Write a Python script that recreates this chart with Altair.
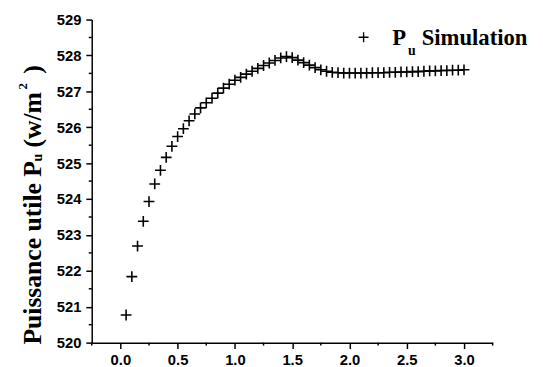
import altair as alt
import pandas as pd

# ---- data ----
x_vals = [0.05, 0.10, 0.15, 0.20, 0.25, 0.30, 0.35, 0.40, 0.45, 0.50,
          0.55, 0.60, 0.65, 0.70, 0.75, 0.80, 0.85, 0.90, 0.95, 1.00,
          1.05, 1.10, 1.15, 1.20, 1.25, 1.30, 1.35, 1.40, 1.45, 1.50,
          1.55, 1.60, 1.65, 1.70, 1.75, 1.80, 1.85, 1.90, 1.95, 2.00,
          2.05, 2.10, 2.15, 2.20, 2.25, 2.30, 2.35, 2.40, 2.45, 2.50,
          2.55, 2.60, 2.65, 2.70, 2.75, 2.80, 2.85, 2.90, 2.95, 3.00]
pu_vals = [520.77, 521.84, 522.69, 523.38, 523.93, 524.42, 524.80, 525.16, 525.47, 525.74,
           525.96, 526.18, 526.37, 526.54, 526.68, 526.81, 526.95, 527.09, 527.20, 527.31,
           527.39, 527.48, 527.56, 527.64, 527.72, 527.79, 527.86, 527.93, 527.97, 527.94,
           527.87, 527.80, 527.73, 527.66, 527.60, 527.56, 527.53, 527.52, 527.51, 527.51,
           527.51, 527.51, 527.51, 527.52, 527.52, 527.52, 527.53, 527.53, 527.54, 527.54,
           527.55, 527.55, 527.56, 527.57, 527.57, 527.58, 527.58, 527.59, 527.59, 527.60]

x_major = [0.0, 0.5, 1.0, 1.5, 2.0, 2.5, 3.0]
x_minor = [-0.25, 0.25, 0.75, 1.25, 1.75, 2.25, 2.75, 3.25]
y_major = [520, 521, 522, 523, 524, 525, 526, 527, 528, 529]
y_minor = [520.5, 521.5, 522.5, 523.5, 524.5, 525.5, 526.5, 527.5, 528.5]

legend_label = "Simulation"
y_title_main = "Puissance utile P"
y_title_sub = "u"
y_title_unit = "(w/m"
y_title_sup = "2"
y_title_end = ")"

# ---- chart ----
W, H = 407, 328
CROSS = "M-1,0H1M0,-1V1"

df = pd.DataFrame({"x": x_vals, "pu": pu_vals})
dfxm = pd.DataFrame({"x": x_minor})
dfym = pd.DataFrame({"pu": y_minor})
one = pd.DataFrame({"a": [0]})

xscale = alt.Scale(domain=[-0.25, 3.25], nice=False, zero=False)
yscale = alt.Scale(domain=[520, 529], nice=False, zero=False)
xaxis = alt.Axis(values=x_major, format=".1f", title=None, grid=False,
                 tickSize=6, labelPadding=4)
yaxis = alt.Axis(values=y_major, format="d", title=None, grid=False,
                 tickSize=6, labelPadding=5)

points = alt.Chart(df).mark_point(
    shape=CROSS, filled=False, stroke="black", strokeWidth=1.6, size=120, opacity=1
).encode(
    x=alt.X("x:Q", scale=xscale, axis=xaxis),
    y=alt.Y("pu:Q", scale=yscale, axis=yaxis),
)

xminor = alt.Chart(dfxm).mark_rule(color="black", strokeWidth=1.5).encode(
    x=alt.X("x:Q", scale=xscale, axis=xaxis),
    y=alt.value(H), y2=alt.value(H + 3),
)
yminor = alt.Chart(dfym).mark_rule(color="black", strokeWidth=1.5).encode(
    y=alt.Y("pu:Q", scale=yscale, axis=yaxis),
    x=alt.value(0), x2=alt.value(-3),
)

serif = "'Liberation Serif', 'Times New Roman', 'DejaVu Serif', serif"

leg_cross = alt.Chart(one).mark_point(
    shape=CROSS, filled=False, stroke="black", strokeWidth=1.4, size=100, opacity=1
).encode(x=alt.value(276), y=alt.value(18))

def txt(text, x, y, size, angle=0):
    return alt.Chart(one).mark_text(
        text=text, font=serif, fontWeight="bold", fontSize=size, color="black",
        align="left", baseline="alphabetic", angle=angle
    ).encode(x=alt.value(x), y=alt.value(y))

leg_p = txt("P", 305, 26, 23)
leg_u = txt("u", 321, 36, 14)
leg_s = txt(legend_label, 335, 26, 23)

t1 = txt(y_title_main, -52, 330, 26, 270)
t2 = txt(y_title_sub, -50, 144, 14, 270)
t3 = txt(y_title_unit, -52, 130, 26, 270)
t4 = txt(y_title_sup, -66, 71, 13, 270)
t5 = txt(y_title_end, -52, 55, 26, 270)

chart = alt.layer(
    xminor, yminor, points, leg_cross, leg_p, leg_u, leg_s, t1, t2, t3, t4, t5
).properties(
    width=W, height=H,
    padding={"left": 85, "top": 9, "right": 43, "bottom": 22},
    autosize=alt.AutoSizeParams(type="none"),
).configure_view(stroke=None).configure_axis(
    domainColor="black", domainWidth=1.5, tickColor="black", tickWidth=1.5,
    labelFont="Liberation Sans", labelFontWeight="bold", labelFontSize=15,
    labelColor="black",
)

chart.save("out.html", embed_options={"renderer": "svg", "actions": False})
